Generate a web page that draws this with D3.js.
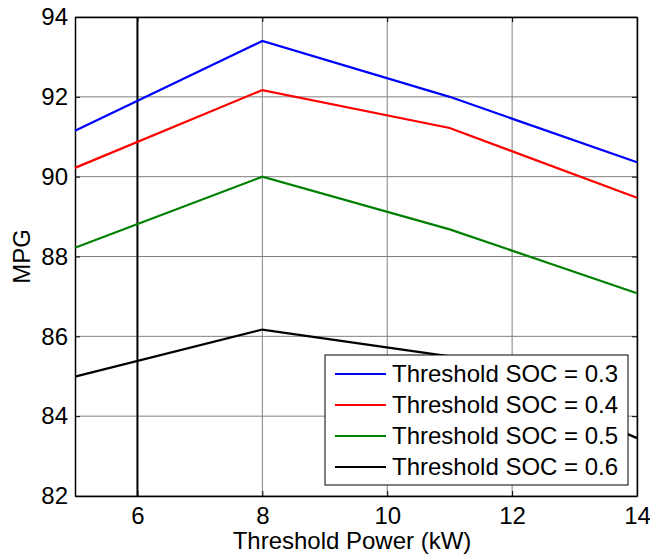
<!DOCTYPE html>
<html><head><meta charset="utf-8">
<script src="https://cdn.jsdelivr.net/npm/d3@7"></script>
<style>body{margin:0;background:#fff}text{font-family:"Liberation Sans",Arial,sans-serif}</style>
</head><body>
<svg id="c" width="650" height="556"></svg>
<script>
const powers = [5, 8, 11, 14];
const soc03 = [91.15, 93.4, 92.0, 90.36];
const soc04 = [90.22, 92.17, 91.22, 89.47];
const soc05 = [88.22, 90.0, 88.68, 87.08];
const soc06 = [84.99, 86.17, 85.5, 83.45];
const seriesNames = ["Threshold SOC = 0.3","Threshold SOC = 0.4","Threshold SOC = 0.5","Threshold SOC = 0.6"];
const seriesColors = ["#0000ff","#ff0000","#008000","#000000"];
const xTicks = [6, 8, 10, 12, 14];
const yTicks = [82, 84, 86, 88, 90, 92, 94];
const markerX = 6;

const svg = d3.select("#c");
const L = 75, T = 17, R = 637, B = 496;
const FS = 24;
const x = d3.scaleLinear().domain([5, 14]).range([L, R]);
const y = d3.scaleLinear().domain([82, 94]).range([B, T]);

// grid
const g = svg.append("g");
xTicks.forEach(v => g.append("line").attr("x1", x(v)).attr("x2", x(v)).attr("y1", T).attr("y2", B)
  .attr("stroke", "#808080").attr("stroke-width", 1));
yTicks.forEach(v => g.append("line").attr("x1", L).attr("x2", R).attr("y1", y(v)).attr("y2", y(v))
  .attr("stroke", "#808080").attr("stroke-width", 1));

// vertical black line at x=6
svg.append("line").attr("x1", x(markerX)).attr("x2", x(markerX)).attr("y1", T).attr("y2", B)
  .attr("stroke", "#000").attr("stroke-width", 2);

// axes with inward ticks
const axB = svg.append("g").attr("transform", `translate(0,${B})`)
  .call(d3.axisBottom(x).tickValues(xTicks).tickSizeInner(-5).tickSizeOuter(0).tickPadding(11));
const axT = svg.append("g").attr("transform", `translate(0,${T})`)
  .call(d3.axisTop(x).tickValues(xTicks).tickSizeInner(-5).tickSizeOuter(0).tickFormat(""));
const axL = svg.append("g").attr("transform", `translate(${L},0)`)
  .call(d3.axisLeft(y).tickValues(yTicks).tickSizeInner(-5).tickSizeOuter(0).tickPadding(7));
const axR = svg.append("g").attr("transform", `translate(${R},0)`)
  .call(d3.axisRight(y).tickValues(yTicks).tickSizeInner(-5).tickSizeOuter(0).tickFormat(""));
[axB, axT, axL, axR].forEach(a => {
  a.select(".domain").attr("stroke", "#000").attr("stroke-width", 1.5);
  a.selectAll(".tick line").attr("stroke", "#000");
  a.selectAll("text").attr("font-size", FS).attr("fill", "#000")
    .style("font-family", '"Liberation Sans",Arial,sans-serif');
});
axB.selectAll("text").attr("dy", "0.71em");

// data lines
const data = [soc03, soc04, soc05, soc06];
const line = d3.line().x((d, i) => x(powers[i])).y(d => y(d));
data.forEach((s, k) => {
  svg.append("path").datum(s).attr("d", line).attr("fill", "none")
    .attr("stroke", seriesColors[k]).attr("stroke-width", 2.2);
});

// axis titles
svg.append("text").attr("x", (L + R) / 2 - 4).attr("y", 549).attr("text-anchor", "middle")
  .attr("font-size", FS).text("Threshold Power (kW)");
svg.append("text").attr("transform", `translate(30,${(T + B) / 2}) rotate(-90)`)
  .attr("text-anchor", "middle").attr("font-size", FS).text("MPG");

// legend
const lg = svg.append("g");
lg.append("rect").attr("x", 325).attr("y", 355).attr("width", 303).attr("height", 130)
  .attr("fill", "#fff").attr("stroke", "#000").attr("stroke-width", 1);
seriesNames.forEach((n, k) => {
  const yy = 374 + k * 31;
  lg.append("line").attr("x1", 335).attr("x2", 386).attr("y1", yy).attr("y2", yy)
    .attr("stroke", seriesColors[k]).attr("stroke-width", 2);
  lg.append("text").attr("x", 392).attr("y", yy).attr("dy", "0.35em")
    .attr("font-size", FS).text(n);
});
</script>
</body></html>
